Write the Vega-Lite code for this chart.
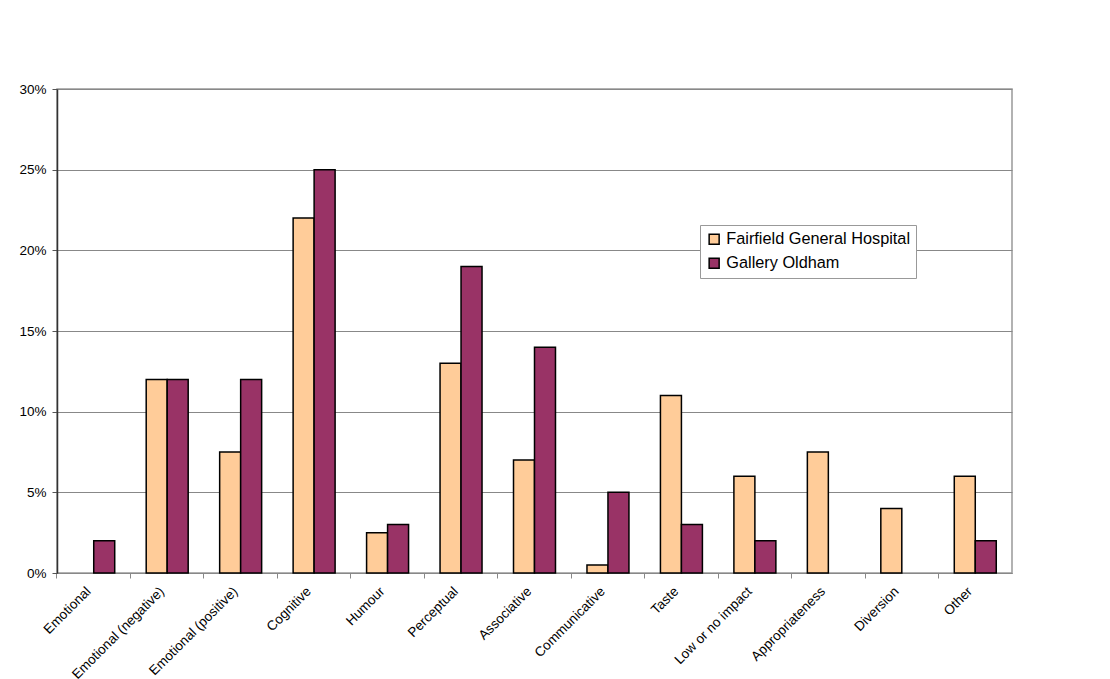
{
  "$schema": "https://vega.github.io/schema/vega-lite/v6.json",
  "autosize": {"type": "none"},
  "width": 955,
  "height": 484,
  "padding": {"left": 57, "top": 89, "right": 98, "bottom": 106},
  "background": "white",
  "config": {
    "font": "Liberation Sans",
    "view": {"stroke": "#999999", "strokeWidth": 1.5}
  },
  "data": {
    "values": [
      {"category": "Emotional", "series": "Fairfield General Hospital", "value": 0},
      {"category": "Emotional", "series": "Gallery Oldham", "value": 0.02},
      {"category": "Emotional (negative)", "series": "Fairfield General Hospital", "value": 0.12},
      {"category": "Emotional (negative)", "series": "Gallery Oldham", "value": 0.12},
      {"category": "Emotional (positive)", "series": "Fairfield General Hospital", "value": 0.075},
      {"category": "Emotional (positive)", "series": "Gallery Oldham", "value": 0.12},
      {"category": "Cognitive", "series": "Fairfield General Hospital", "value": 0.22},
      {"category": "Cognitive", "series": "Gallery Oldham", "value": 0.25},
      {"category": "Humour", "series": "Fairfield General Hospital", "value": 0.025},
      {"category": "Humour", "series": "Gallery Oldham", "value": 0.03},
      {"category": "Perceptual", "series": "Fairfield General Hospital", "value": 0.13},
      {"category": "Perceptual", "series": "Gallery Oldham", "value": 0.19},
      {"category": "Associative", "series": "Fairfield General Hospital", "value": 0.07},
      {"category": "Associative", "series": "Gallery Oldham", "value": 0.14},
      {"category": "Communicative", "series": "Fairfield General Hospital", "value": 0.005},
      {"category": "Communicative", "series": "Gallery Oldham", "value": 0.05},
      {"category": "Taste", "series": "Fairfield General Hospital", "value": 0.11},
      {"category": "Taste", "series": "Gallery Oldham", "value": 0.03},
      {"category": "Low or no impact", "series": "Fairfield General Hospital", "value": 0.06},
      {"category": "Low or no impact", "series": "Gallery Oldham", "value": 0.02},
      {"category": "Appropriateness", "series": "Fairfield General Hospital", "value": 0.075},
      {"category": "Appropriateness", "series": "Gallery Oldham", "value": 0},
      {"category": "Diversion", "series": "Fairfield General Hospital", "value": 0.04},
      {"category": "Diversion", "series": "Gallery Oldham", "value": 0},
      {"category": "Other", "series": "Fairfield General Hospital", "value": 0.06},
      {"category": "Other", "series": "Gallery Oldham", "value": 0.02}
    ]
  },
  "transform": [{"filter": "datum.value > 0"}],
  "mark": {"type": "bar", "stroke": "black", "strokeWidth": 1.5},
  "encoding": {
    "x": {
      "field": "category",
      "type": "nominal",
      "sort": null,
      "scale": {"paddingInner": 0, "paddingOuter": 0},
      "axis": {
        "title": null,
        "bandPosition": 0,
        "labelAngle": -45,
        "labelAlign": "right",
        "labelBaseline": "top",
        "labelOffset": -10,
        "labelFontSize": 13.5,
        "labelColor": "black",
        "labelPadding": 6,
        "domainColor": "#888888",
        "tickColor": "#888888",
        "tickSize": 5,
        "grid": false
      }
    },
    "xOffset": {
      "field": "series",
      "type": "nominal",
      "scale": {"paddingInner": 0, "paddingOuter": 0.75}
    },
    "y": {
      "field": "value",
      "type": "quantitative",
      "scale": {"domain": [0, 0.3], "nice": false},
      "axis": {
        "title": null,
        "format": "%",
        "values": [0, 0.05, 0.1, 0.15, 0.2, 0.25, 0.3],
        "labelFontSize": 13.5,
        "labelColor": "black",
        "labelPadding": 6,
        "tickSize": 5,
        "tickColor": "#555555",
        "domainColor": "#333333",
        "domainWidth": 1.5,
        "gridColor": "#888888",
        "gridWidth": 1
      }
    },
    "color": {
      "field": "series",
      "type": "nominal",
      "scale": {
        "domain": ["Fairfield General Hospital", "Gallery Oldham"],
        "range": ["#FFCC99", "#993366"]
      },
      "legend": {
        "title": null,
        "orient": "none",
        "legendX": 643,
        "legendY": 136,
        "symbolType": "square",
        "symbolSize": 100,
        "symbolStrokeColor": "black",
        "symbolStrokeWidth": 1.5,
        "labelFontSize": 16.3,
        "labelColor": "black",
        "rowPadding": 7,
        "padding": 6,
        "strokeColor": "#999999",
        "fillColor": "white",
        "labelLimit": 300
      }
    }
  }
}
